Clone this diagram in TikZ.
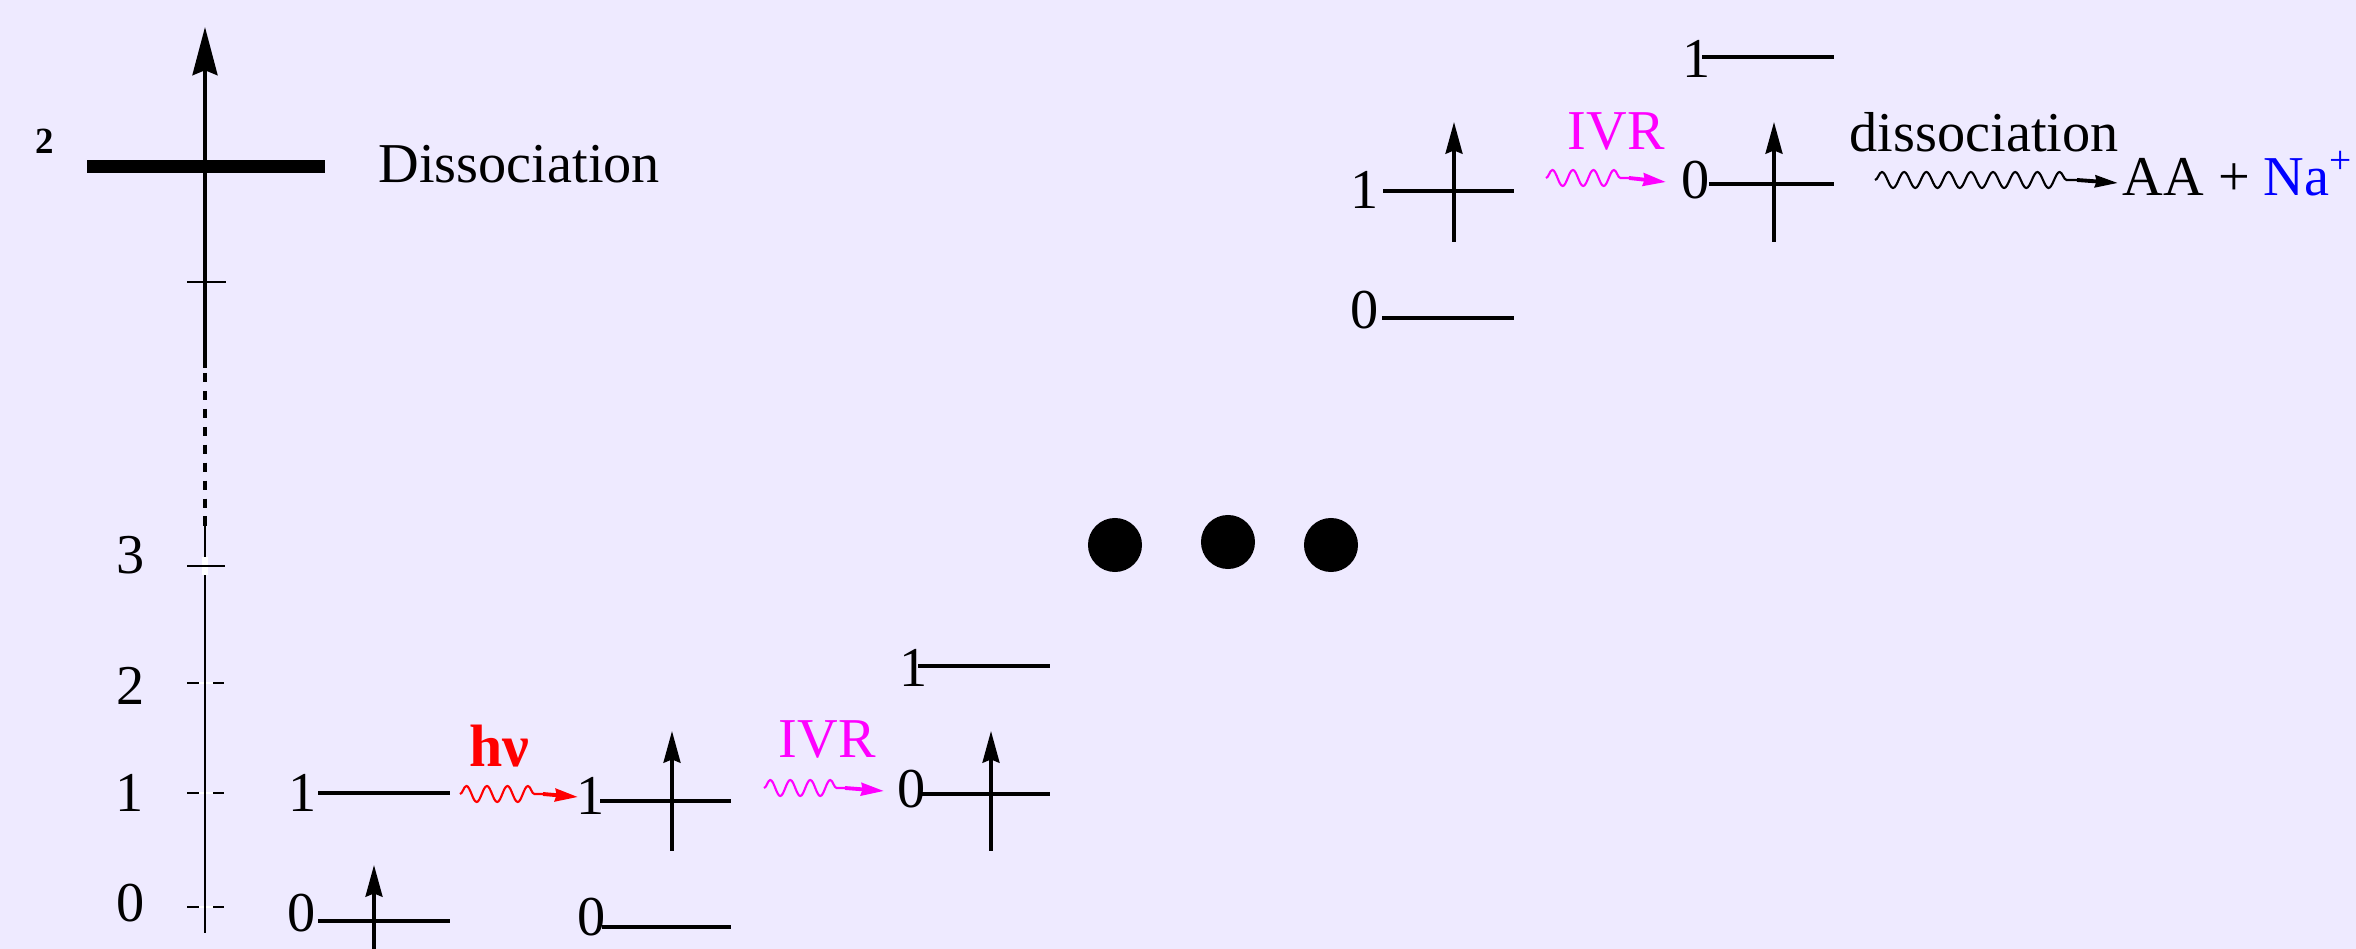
\documentclass[tikz,border=0pt]{standalone}
\usepackage{fontspec}
\setmainfont{Liberation Serif}
\usetikzlibrary{arrows.meta,decorations.pathmorphing}
\definecolor{bgc}{RGB}{238,234,255}
\definecolor{ivrc}{RGB}{255,0,255}
\definecolor{nac}{RGB}{0,0,255}
\definecolor{hvc}{RGB}{255,0,0}
\begin{document}
\begin{tikzpicture}[x=0.01cm,y=-0.01cm,
  every node/.style={font=\fontsize{16pt}{19pt}\selectfont, inner sep=0pt},
  level/.style={line width=1pt},
  vib/.style={line width=1pt, -{Stealth[length=9pt,width=4.8pt,inset=0.9pt]}},
  tickb/.style={line width=0.85pt},
  tickw/.style={line width=0.85pt, white},
  wave/.style={decorate, decoration={snake, segment length=#1, amplitude=0.08cm}, line width=0.6pt},
  wavehead/.style={line width=1.1pt, -{Stealth[length=6.5pt,width=3.6pt,inset=0.4pt]}},
  dot/.style={circle, fill=black, minimum size=0.54cm, inner sep=0pt},
  word/.style={anchor=base west}]
\fill[bgc] (0,0) rectangle (2356,949);
\useasboundingbox (0,0) rectangle (2356,949);

% ---- energy axis ----
\coordinate (axB) at (205,933);
\coordinate (axS) at (205,526);
\coordinate (axD) at (205,373);
\coordinate (axU) at (205,368);
\coordinate (axT) at (205,27);
% ticks 0,1,2 (dashed) and 3
\foreach \n/\y in {t0/907, t1/793, t2/683} {
  \draw[tickw] (199,\y) -- (213,\y);
  \draw[tickb] (187,\y) -- (199,\y);
  \draw[tickb] (213,\y) -- (224,\y);
}
\draw[line width=0.8pt] (axB) -- (axS);
\draw[line width=1.1pt, dash pattern=on 2.7pt off 2.4pt] (axD) -- (axS);
\draw[line width=1.1pt, -{Stealth[length=13.7pt,width=7.1pt,inset=1.4pt]}] (axU) -- (axT);
\draw[white, line width=1.6pt] (205,557) -- (205,575);
\coordinate (tk3a) at (187,566); \coordinate (tk3b) at (225,566);
\draw[tickb] (tk3a) -- (tk3b);
\coordinate (tk4a) at (187,282); \coordinate (tk4b) at (226,282);
\draw[tickb] (tk4a) -- (tk4b);
% dissociation bar
\coordinate (bar1) at (87,167); \coordinate (bar2) at (325,167);
\draw[line width=3.7pt] (bar1) -- (bar2);
\node[font=\fontsize{10.5pt}{12pt}\selectfont\bfseries] (two) at (45,141) {2};
\node[word] (diss) at (378,183) {Dissociation};
% axis labels
\node (ax0) at (131,903) {0};
\node (ax1) at (130,793) {1};
\node (ax2) at (131,686) {2};
\node (ax3) at (131,555) {3};

% ---- column A ----
\coordinate (a1l) at (318,793); \coordinate (a1r) at (450,793);
\coordinate (a0l) at (318,921); \coordinate (a0r) at (450,921);
\draw[level] (a1l) -- (a1r);
\draw[level] (a0l) -- (a0r);
\node (la1) at (303,793) {1};
\node (la0) at (302,913) {0};
\coordinate (aAb) at (374,949); \coordinate (aAt) at (374,865);
\draw[vib] (aAb) -- (aAt);

% h nu
\coordinate (r0) at (460,794); \coordinate (r1) at (543,794); \coordinate (r2) at (578,797);
\draw[wave=0.205cm, hvc] (r0) -- (r1);
\draw[wavehead, hvc] (r1) -- (r2);
\node[word, hvc, font=\fontsize{17pt}{20pt}\selectfont\bfseries] (hnu) at (469,767) {hν};

% ---- column B ----
\coordinate (b1l) at (600,801); \coordinate (b1r) at (731,801);
\coordinate (b0l) at (602,927); \coordinate (b0r) at (731,927);
\draw[level] (b1l) -- (b1r);
\draw[level] (b0l) -- (b0r);
\node (lb1) at (591,796) {1};
\node (lb0) at (592,917) {0};
\coordinate (aBb) at (672,851); \coordinate (aBt) at (672,731);
\draw[vib] (aBb) -- (aBt);

% IVR 1
\coordinate (m0) at (764,788); \coordinate (m1) at (845,788); \coordinate (m2) at (884,791);
\draw[wave=0.2cm, ivrc] (m0) -- (m1);
\draw[wavehead, ivrc] (m1) -- (m2);
\node[word, ivrc] (ivr1) at (778,758) {IVR};

% ---- column C ----
\coordinate (c0l) at (920,794); \coordinate (c0r) at (1050,794);
\coordinate (c1l) at (918,666); \coordinate (c1r) at (1050,666);
\draw[level] (c0l) -- (c0r);
\draw[level] (c1l) -- (c1r);
\node (lc0) at (912,789) {0};
\node (lc1) at (914,668) {1};
\coordinate (aCb) at (991,851); \coordinate (aCt) at (991,731);
\draw[vib] (aCb) -- (aCt);

% dots
\node[dot] (dot1) at (1115,545) {};
\node[dot] (dot2) at (1228,542) {};
\node[dot] (dot3) at (1331,545) {};

% ---- column D (upper) ----
\coordinate (d1l) at (1383,191); \coordinate (d1r) at (1514,191);
\coordinate (d0l) at (1382,318); \coordinate (d0r) at (1514,318);
\draw[level] (d1l) -- (d1r);
\draw[level] (d0l) -- (d0r);
\node (ld1) at (1365,190) {1};
\node (ld0) at (1365,310) {0};
\coordinate (aDb) at (1454,242); \coordinate (aDt) at (1454,122);
\draw[vib] (aDb) -- (aDt);

% IVR 2
\coordinate (n0) at (1546,178); \coordinate (n1) at (1629,178); \coordinate (n2) at (1666,182);
\draw[wave=0.205cm, ivrc] (n0) -- (n1);
\draw[wavehead, ivrc] (n1) -- (n2);
\node[word, ivrc] (ivr2) at (1567,150) {IVR};

% ---- column E (upper) ----
\coordinate (e0l) at (1709,184); \coordinate (e0r) at (1834,184);
\coordinate (e1l) at (1702,57); \coordinate (e1r) at (1834,57);
\draw[level] (e0l) -- (e0r);
\draw[level] (e1l) -- (e1r);
\node (le0) at (1696,180) {0};
\node (le1) at (1697,59) {1};
\coordinate (aEb) at (1774,242); \coordinate (aEt) at (1774,122);
\draw[vib] (aEb) -- (aEt);

% dissociation
\coordinate (k0) at (1875,180); \coordinate (k1) at (2077,180); \coordinate (k2) at (2118,183);
\draw[wave=0.222cm] (k0) -- (k1);
\draw[line width=1.1pt, -{Stealth[length=6.5pt,width=3.4pt,inset=0.4pt]}] (k1) -- (k2);
\node[word] (dissw) at (1849,152) {dissociation};
\node[word] (prod) at (2122,196) {AA + \textcolor{nac}{Na\textsuperscript{+}}};
\end{tikzpicture}
\end{document}
